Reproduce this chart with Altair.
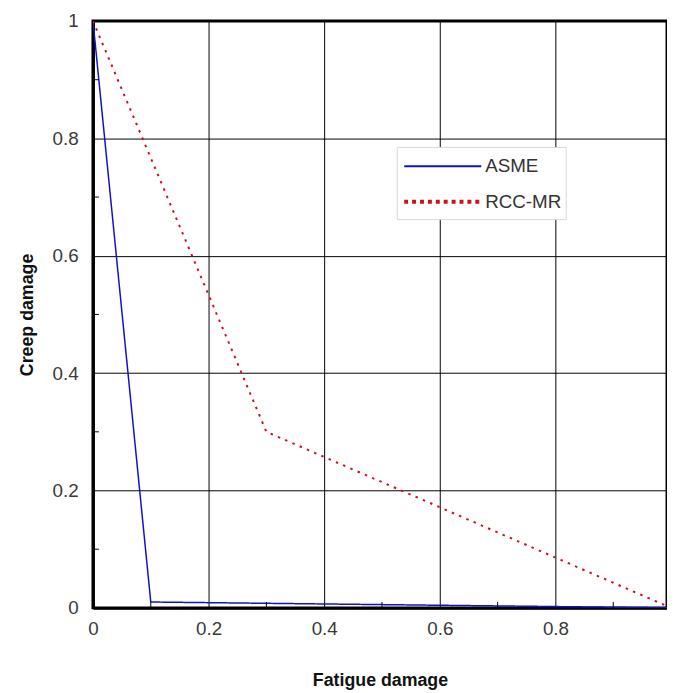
import altair as alt
import pandas as pd

asme_x = [0.0, 0.1, 1.0]
asme_y = [1.0, 0.01, 0.0]
rcc_x = [0.0, 0.3, 1.0]
rcc_y = [1.0, 0.3, 0.0]
series_names = ["ASME", "RCC-MR"]
series_colors = ["#1010d0", "#cc1020"]
major_ticks = [0, 0.2, 0.4, 0.6, 0.8, 1.0]
minor_ticks = [0.1, 0.3, 0.5, 0.7, 0.9]

rows = []
for i, (x, y) in enumerate(zip(asme_x, asme_y)):
    rows.append({"series": "ASME", "fatigue": x, "creep": y, "order": i})
for i, (x, y) in enumerate(zip(rcc_x, rcc_y)):
    rows.append({"series": "RCC-MR", "fatigue": x, "creep": y, "order": i})
df = pd.DataFrame(rows)
minor_df = pd.DataFrame({"v": minor_ticks})
asme_leg = pd.DataFrame({"series": [series_names[0]]})
rcc_leg = pd.DataFrame({"series": [series_names[1]]})

W, H = 581, 594
xscale = alt.Scale(domain=[0, 0.993], nice=False, zero=False)
yscale = alt.Scale(domain=[0, 1], nice=False)
cscale = alt.Scale(domain=series_names, range=series_colors)
dscale = alt.Scale(domain=series_names, range=[[1, 0], [2.5, 5.5]])

lines = alt.Chart(df).mark_line(clip=True).encode(
    x=alt.X("fatigue:Q", scale=xscale,
            axis=alt.Axis(values=major_ticks, title="Fatigue damage", format="~g")),
    y=alt.Y("creep:Q", scale=yscale,
            axis=alt.Axis(values=major_ticks, title="Creep damage", format="~g")),
    color=alt.Color("series:N", scale=cscale, legend=None),
    strokeDash=alt.StrokeDash("series:N", scale=dscale, legend=None),
    strokeWidth=alt.StrokeWidth("series:N", scale=alt.Scale(domain=series_names, range=[1.5, 2]),
                                legend=None),
    order="order:Q",
)

xminor = alt.Chart(minor_df).mark_rule(color="black", strokeWidth=1).encode(
    x=alt.X("v:Q", scale=xscale), y=alt.value(H), y2=alt.value(H - 6))
yminor = alt.Chart(minor_df).mark_rule(color="black", strokeWidth=1).encode(
    y=alt.Y("v:Q", scale=yscale), x=alt.value(0), x2=alt.value(6))

# legend box (decoration)
leg_box = alt.Chart(pd.DataFrame({"a": [0]})).mark_rect(
    fill="white", stroke="#d8d8d8", strokeWidth=1).encode(
    x=alt.value(308), x2=alt.value(479), y=alt.value(128), y2=alt.value(201))
leg_line_asme = alt.Chart(asme_leg).mark_rule(strokeWidth=2).encode(
    x=alt.value(315), x2=alt.value(393), y=alt.value(147),
    color=alt.Color("series:N", scale=cscale, legend=None))
leg_line_rcc = alt.Chart(rcc_leg).mark_rule(strokeWidth=4, strokeDash=[4, 4]).encode(
    x=alt.value(315), x2=alt.value(393), y=alt.value(183),
    color=alt.Color("series:N", scale=cscale, legend=None))
text_style = dict(align="left", baseline="middle", font="Liberation Sans", fontSize=19,
                  color="#333333")
leg_text_asme = alt.Chart(asme_leg).mark_text(**text_style).encode(
    x=alt.value(397), y=alt.value(147), text="series:N")
leg_text_rcc = alt.Chart(rcc_leg).mark_text(**text_style).encode(
    x=alt.value(397), y=alt.value(183), text="series:N")

chart = alt.layer(lines, xminor, yminor, leg_box, leg_line_asme, leg_line_rcc,
                  leg_text_asme, leg_text_rcc).properties(
    width=W, height=H,
    autosize=alt.AutoSizeParams(type="none"),
    padding={"left": 86, "top": 9, "right": 0, "bottom": 82},
).configure_view(
    stroke="black", strokeWidth=3
).configure_axis(
    grid=True, gridColor="black", gridWidth=1, gridOpacity=1,
    ticks=False, domainColor="black", domainWidth=3,
    labelFont="Liberation Sans", labelFontSize=19, labelColor="#3a3a3a",
    titleFont="Liberation Sans", titleFontSize=18, titleFontWeight="bold", titleColor="#111111",
).configure_axisX(
    labelPadding=12, titlePadding=34, labelFlush=False
).configure_axisY(
    labelPadding=15, titlePadding=16
)

chart.save("out.html", embed_options={"renderer": "svg", "actions": False})
